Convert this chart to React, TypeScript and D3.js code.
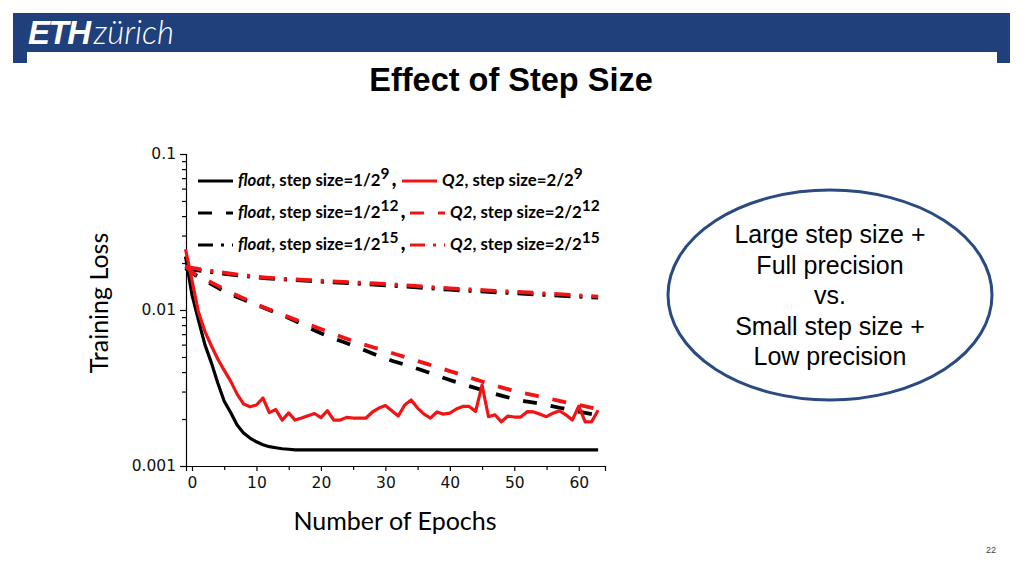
import * as d3 from "d3";
import { useEffect, useRef } from "react";

// epochs -1..63 (curves start a little left of the "0" tick in the source)
const epochs = d3.range(-1, 64);

const floatStep9 = [
  0.022, 0.0125, 0.0086, 0.006, 0.0046, 0.0034, 0.0026, 0.0022, 0.00183, 0.00163,
  0.00151, 0.00143, 0.00137, 0.00133, 0.00131, 0.00129, 0.00128,
  0.00127, 0.00127, 0.00127, 0.00127, 0.00127, 0.00127, 0.00127, 0.00127, 0.00127, 0.00127,
  0.00127, 0.00127, 0.00127, 0.00127, 0.00127, 0.00127, 0.00127, 0.00127, 0.00127, 0.00127,
  0.00127, 0.00127, 0.00127, 0.00127, 0.00127, 0.00127, 0.00127, 0.00127, 0.00127, 0.00127,
  0.00127, 0.00127, 0.00127, 0.00127, 0.00127, 0.00127, 0.00127, 0.00127, 0.00127, 0.00127,
  0.00127, 0.00127, 0.00127, 0.00127, 0.00127, 0.00127, 0.00127, 0.00127,
];

const q2Step9 = [
  0.0245, 0.0155, 0.0097, 0.0073, 0.0059, 0.00485, 0.0041, 0.0035, 0.00289, 0.0025,
  0.0024, 0.00246, 0.00273, 0.0022, 0.0023, 0.00197, 0.00219, 0.00197, 0.00203, 0.0021,
  0.00217, 0.00204, 0.00226, 0.00197, 0.00197, 0.00205, 0.00203, 0.00203, 0.00203, 0.00222,
  0.00235, 0.00244, 0.00226, 0.00209, 0.00246, 0.00265, 0.00235, 0.00215, 0.00203, 0.00222,
  0.00215, 0.00218, 0.00232, 0.00241, 0.00241, 0.00224, 0.0033, 0.00207, 0.00213, 0.00192,
  0.00209, 0.00206, 0.00206, 0.00223, 0.00222, 0.00215, 0.00207, 0.00218, 0.00226, 0.00213,
  0.00197, 0.00242, 0.00192, 0.00192, 0.00228,
];

const dashEpochs = [-1, 0, 2, 5, 10, 15, 20, 25, 30, 35, 40, 45, 50, 55, 60, 63];
const floatStep12 = [
  0.0186, 0.0173, 0.0155, 0.0132, 0.0108, 0.0089, 0.0071, 0.0059, 0.0049, 0.0042,
  0.00356, 0.00307, 0.00269, 0.00246, 0.00223, 0.00212,
];
const q2Step12 = [
  0.0191, 0.0175, 0.0158, 0.0136, 0.0109, 0.009, 0.00755, 0.00633, 0.00546, 0.00471,
  0.00406, 0.00348, 0.00303, 0.00273, 0.00246, 0.00232,
];

const dashDotEpochs = [-1, 10, 20, 30, 40, 50, 63];
const floatStep15 = [0.0184, 0.0162, 0.0152, 0.0144, 0.0135, 0.0128, 0.012];
const q2Step15 = [0.0189, 0.01635, 0.0154, 0.01468, 0.01377, 0.0131, 0.0122];

const xTicks = [0, 10, 20, 30, 40, 50, 60];
const yTickLabels = ["0.001", "0.01", "0.1"];
const exponents = ["9", "12", "15"];
const bubbleLines = ["Large step size +", "Full precision", "vs.", "Small step size +", "Low precision"];

const BLUE = "#1f407a";
const RED = "#f01414";

export default function App() {
  const svgRef = useRef<SVGSVGElement | null>(null);

  useEffect(() => {
    const width = 1024;
    const height = 576;
    const svg = d3.select(svgRef.current);
    svg.selectAll("*").remove();
    svg.attr("width", width).attr("height", height);

    svg.append("rect").attr("width", width).attr("height", height).attr("fill", "#fff");

    // header band
    svg.append("rect").attr("x", 13).attr("y", 13).attr("width", 997).attr("height", 39).attr("fill", BLUE);
    svg.append("rect").attr("x", 13).attr("y", 52).attr("width", 14).attr("height", 11).attr("fill", BLUE);
    svg.append("rect").attr("x", 997).attr("y", 52).attr("width", 13).attr("height", 11).attr("fill", BLUE);
    const logo = svg
      .append("text")
      .attr("x", 28)
      .attr("y", 44)
      .attr("fill", "#fff")
      .style("font-family", "'Liberation Sans', Arial, sans-serif")
      .style("font-style", "italic");
    logo.append("tspan").text("ETH").style("font-weight", "bold").style("font-size", "33px").style("letter-spacing", "-1.5px");
    logo.append("tspan").attr("dx", 4).text("zürich").style("font-weight", "300").style("font-size", "33px").style("font-family", "Lato, sans-serif");

    svg
      .append("text")
      .attr("x", 511)
      .attr("y", 91)
      .attr("text-anchor", "middle")
      .style("font-family", "'Liberation Sans', Arial, sans-serif")
      .style("font-weight", "bold")
      .style("font-size", "32.5px")
      .text("Effect of Step Size");

    // scales
    const x = d3.scaleLinear().domain([-0.93, 64.07]).range([186, 605]);
    const y = d3.scaleLog().domain([0.001, 0.1]).range([466, 154]);

    const yTickValues: number[] = [];
    for (const k of [-3, -2]) for (let m = 1; m <= 9; m++) yTickValues.push(m * Math.pow(10, k));
    yTickValues.push(0.1);
    const isDecade = (d: number) => Math.abs(Math.log10(d) - Math.round(Math.log10(d))) < 1e-9;

    const yAxis = svg
      .append("g")
      .attr("transform", "translate(186,0)")
      .call(
        d3
          .axisLeft(y)
          .tickValues(yTickValues)
          .tickSizeOuter(0)
          .tickSize(6)
          .tickFormat((d) => (isDecade(+d) ? yTickLabels[Math.round(Math.log10(+d)) + 3] : ""))
      );
    yAxis.selectAll<SVGGElement, number>(".tick line").attr("x2", (d) => (isDecade(d) ? -6 : -4));
    yAxis.selectAll(".tick text").attr("x", -10);

    const xMinor = d3.range(0, 65, 5);
    const xAxis = svg
      .append("g")
      .attr("transform", "translate(0,466)")
      .call(
        d3
          .axisBottom(x)
          .tickValues(xMinor)
          .tickSizeOuter(0)
          .tickSize(5)
          .tickFormat((d) => (xTicks.includes(+d) ? String(d) : ""))
      );
    xAxis.selectAll<SVGGElement, number>(".tick line").attr("y2", (d) => (xTicks.includes(d) ? 5 : 4));
    xAxis.selectAll(".tick text").attr("y", 11);

    [xAxis, yAxis].forEach((g) => {
      g.attr("font-size", null).attr("font-family", null);
      g.selectAll("path, line").attr("stroke", "#000").attr("stroke-width", 1.2);
      g.selectAll("text")
        .attr("fill", "#111")
        .style("font-family", "'DejaVu Sans', Verdana, sans-serif")
        .style("font-size", "15.5px");
    });

    svg
      .append("text")
      .attr("transform", "translate(108,303) rotate(-90)")
      .attr("text-anchor", "middle")
      .style("font-family", "Lato, 'Open Sans', sans-serif")
      .style("font-size", "25px")
      .text("Training Loss");

    svg
      .append("text")
      .attr("x", 395)
      .attr("y", 530)
      .attr("text-anchor", "middle")
      .style("font-family", "Lato, 'Open Sans', sans-serif")
      .style("font-size", "25px")
      .text("Number of Epochs");

    // series
    const lineOf = (xs: number[], curve: d3.CurveFactory) =>
      d3
        .line<number>()
        .x((_, i) => x(xs[i]))
        .y((d) => y(d))
        .curve(curve);

    const series = [
      { xs: epochs, ys: floatStep9, color: "#000", dash: null, curve: d3.curveLinear },
      { xs: dashEpochs, ys: floatStep12, color: "#000", dash: "14,14", curve: d3.curveMonotoneX },
      { xs: dashDotEpochs, ys: floatStep15, color: "#000", dash: "16,9,3,9", curve: d3.curveMonotoneX },
      { xs: epochs, ys: q2Step9, color: RED, dash: null, curve: d3.curveLinear },
      { xs: dashEpochs, ys: q2Step12, color: RED, dash: "14,14", curve: d3.curveMonotoneX },
      { xs: dashDotEpochs, ys: q2Step15, color: RED, dash: "16,9,3,9", curve: d3.curveMonotoneX },
    ];

    const plot = svg.append("g");
    series.forEach((s) => {
      plot
        .append("path")
        .attr("d", lineOf(s.xs, s.curve)(s.ys))
        .attr("fill", "none")
        .attr("stroke", s.color)
        .attr("stroke-width", s.dash ? 3.8 : 3.2)
        .attr("stroke-linejoin", "round")
        .attr("stroke-dasharray", s.dash);
    });

    // legend
    const legendY = [181, 213, 245];
    const dashes = [null, "14,14", "15,8,3,8"];
    const redX = [402, 410, 410];
    const legend = svg.append("g").style("font-family", "Lato, 'Open Sans', sans-serif").style("font-weight", "bold");
    exponents.forEach((exp, i) => {
      const ly = legendY[i];
      legend
        .append("line")
        .attr("x1", 198)
        .attr("x2", 233)
        .attr("y1", ly)
        .attr("y2", ly)
        .attr("stroke", "#000")
        .attr("stroke-width", 3.2)
        .attr("stroke-dasharray", dashes[i]);
      const t1 = legend.append("text").attr("x", 238).attr("y", ly + 5).style("font-size", "16.8px");
      t1.append("tspan").style("font-style", "italic").text("float");
      t1.append("tspan").text(", step size=1/2");
      t1.append("tspan").attr("dy", -7).style("font-size", "15.5px").text(exp);
      t1.append("tspan").attr("dy", 7).attr("dx", 2).style("font-size", "22px").text(",");

      legend
        .append("line")
        .attr("x1", redX[i])
        .attr("x2", redX[i] + 35)
        .attr("y1", ly)
        .attr("y2", ly)
        .attr("stroke", RED)
        .attr("stroke-width", 3.2)
        .attr("stroke-dasharray", dashes[i]);
      const t2 = legend.append("text").attr("x", redX[i] + 40).attr("y", ly + 5).style("font-size", "16.8px");
      t2.append("tspan").style("font-style", "italic").text("Q2");
      t2.append("tspan").text(", step size=2/2");
      t2.append("tspan").attr("dy", -7).style("font-size", "15.5px").text(exp);
    });

    // bubble
    svg
      .append("ellipse")
      .attr("cx", 830)
      .attr("cy", 295)
      .attr("rx", 162)
      .attr("ry", 105)
      .attr("fill", "#fff")
      .attr("stroke", "#2a4a82")
      .attr("stroke-width", 3);
    svg
      .append("g")
      .selectAll("text")
      .data(bubbleLines)
      .join("text")
      .attr("x", 830)
      .attr("y", (_, i) => 243 + i * 30.5)
      .attr("text-anchor", "middle")
      .style("font-family", "'Liberation Sans', Arial, sans-serif")
      .style("font-size", "25px")
      .text((d) => d);

    svg
      .append("text")
      .attr("x", 991)
      .attr("y", 553)
      .attr("text-anchor", "middle")
      .attr("fill", "#444")
      .style("font-family", "'Liberation Sans', Arial, sans-serif")
      .style("font-size", "9px")
      .text("22");
  }, []);

  return (
    <div style={{ position: "absolute", left: 0, top: 0 }}>
      <svg ref={svgRef}></svg>
    </div>
  );
}
